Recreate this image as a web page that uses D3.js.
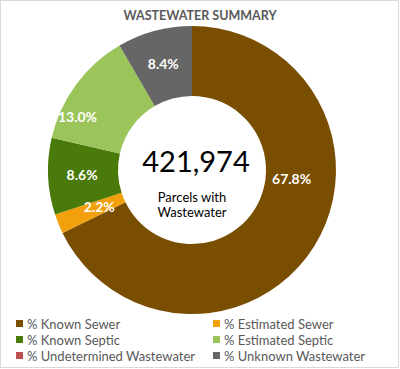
<!DOCTYPE html>
<html><head><meta charset="utf-8">
<script src="https://cdn.jsdelivr.net/npm/d3@7"></script>
<style>html,body{margin:0;padding:0;background:#fff;}svg{display:block;}</style>
</head><body>
<svg id="chart" width="400" height="369"></svg>
<script>
const categories = ["% Known Sewer","% Estimated Sewer","% Known Septic","% Estimated Septic","% Undetermined Wastewater","% Unknown Wastewater"];
const values = [67.8, 2.2, 8.6, 13.0, 0.0, 8.4];
const colors = ["#7A4E00","#F2A10C","#4A7A0A","#9BC45A","#C0504D","#666666"];
const title = "WASTEWATER SUMMARY";
const centerValue = "421,974";
const centerLines = ["Parcels with","Wastewater"];

// layout (not data)
const W = 400, H = 369, cx = 192, cy = 170, rOuter = 144, rInner = 74;
const labelFrac = [0.39, 0.5, 0.5, 0.25, 0.5, 0.5];
const labelR = [100, 100, 110, 126, 110, 110];
const font = "Lato, 'Open Sans', sans-serif";

const svg = d3.select("#chart");
svg.append("rect").attr("x",0.5).attr("y",0.5).attr("width",W-2).attr("height",H-2)
  .attr("fill","#fff").attr("stroke","#d9d9d9");

svg.append("text").attr("x",200).attr("y",20).attr("text-anchor","middle")
  .attr("font-family",font).attr("font-weight","bold").attr("font-size",12.5)
  .attr("fill","#595959").text(title);

const pie = d3.pie().sort(null).value(d=>d);
const arcs = pie(values);
const arc = d3.arc().innerRadius(rInner).outerRadius(rOuter);
const g = svg.append("g").attr("transform",`translate(${cx},${cy})`);
g.selectAll("path").data(arcs).join("path")
  .attr("d",arc).attr("fill",(d,i)=>colors[i]);

const fmt = d3.format(".1f");
g.selectAll("text.lbl").data(arcs).join("text").attr("class","lbl")
  .filter(d=>d.data>0)
  .attr("transform",(d)=>{
    const i = d.index;
    const a = d.startAngle + (d.endAngle-d.startAngle)*labelFrac[i];
    return `translate(${labelR[i]*Math.sin(a)},${-labelR[i]*Math.cos(a)})`;
  })
  .attr("text-anchor","middle").attr("dy","0.35em")
  .attr("font-family",font).attr("font-weight","bold").attr("font-size",14)
  .attr("fill","#fff").text(d=>fmt(d.data)+"%");

g.append("text").attr("x",4).attr("y",2).attr("text-anchor","middle")
  .attr("font-family",font).attr("font-size",29).attr("fill","#000").text(centerValue);
centerLines.forEach((t,i)=>{
  g.append("text").attr("x",0).attr("y",32+15*i).attr("text-anchor","middle")
    .attr("font-family",font).attr("font-size",13).attr("fill","#000").text(t);
});

const leg = svg.append("g");
categories.forEach((c,i)=>{
  const col = i%2, row = Math.floor(i/2);
  const x = col ? 213 : 16, y = 324 + row*16;
  leg.append("rect").attr("x",x).attr("y",y-4).attr("width",7).attr("height",7).attr("fill",colors[i]);
  leg.append("text").attr("x",x+11).attr("y",y).attr("dy","0.35em")
    .attr("font-family",font).attr("font-size",13).attr("fill","#595959").text(c);
});
</script>
</body></html>
